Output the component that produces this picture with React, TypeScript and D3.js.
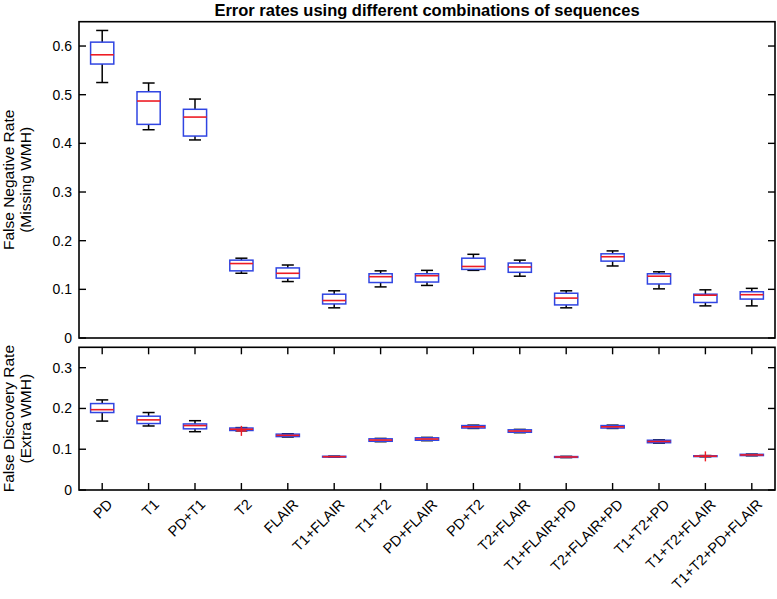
import React from "react";
import * as d3 from "d3";

const categories = [
  "PD", "T1", "PD+T1", "T2", "FLAIR", "T1+FLAIR", "T1+T2", "PD+FLAIR", "PD+T2",
  "T2+FLAIR", "T1+FLAIR+PD", "T2+FLAIR+PD", "T1+T2+PD", "T1+T2+FLAIR", "T1+T2+PD+FLAIR",
];

// False negative rate (top panel)
const fnrLow = [0.525, 0.428, 0.407, 0.133, 0.116, 0.062, 0.105, 0.108, 0.139, 0.127, 0.062, 0.148, 0.101, 0.066, 0.066];
const fnrQ1 = [0.563, 0.439, 0.415, 0.138, 0.123, 0.070, 0.114, 0.115, 0.141, 0.135, 0.068, 0.158, 0.111, 0.073, 0.080];
const fnrMed = [0.582, 0.487, 0.454, 0.153, 0.133, 0.077, 0.126, 0.128, 0.147, 0.146, 0.082, 0.167, 0.127, 0.088, 0.089];
const fnrQ3 = [0.608, 0.506, 0.470, 0.160, 0.144, 0.090, 0.132, 0.132, 0.164, 0.154, 0.092, 0.173, 0.132, 0.090, 0.095];
const fnrHigh = [0.632, 0.524, 0.491, 0.164, 0.150, 0.097, 0.138, 0.139, 0.172, 0.160, 0.097, 0.179, 0.136, 0.099, 0.102];
const fnrOutliers: number[][] = [[], [], [], [], [], [], [], [], [], [], [], [], [], [], []];

// False discovery rate (bottom panel)
const fdrLow = [0.169, 0.157, 0.143, 0.145, 0.130, 0.0805, 0.1185, 0.121, 0.151, 0.1406, 0.0795, 0.151, 0.115, 0.0815, 0.0840];
const fdrQ1 = [0.190, 0.163, 0.150, 0.146, 0.131, 0.0807, 0.1195, 0.122, 0.152, 0.1416, 0.0800, 0.152, 0.116, 0.0820, 0.0845];
const fdrMed = [0.197, 0.172, 0.158, 0.149, 0.134, 0.0817, 0.1225, 0.125, 0.155, 0.1446, 0.0810, 0.155, 0.119, 0.0830, 0.0860];
const fdrQ3 = [0.212, 0.181, 0.162, 0.152, 0.137, 0.0827, 0.1255, 0.128, 0.158, 0.1476, 0.0820, 0.158, 0.122, 0.0840, 0.0875];
const fdrHigh = [0.221, 0.190, 0.170, 0.153, 0.138, 0.0830, 0.1265, 0.129, 0.159, 0.1486, 0.0825, 0.159, 0.123, 0.0845, 0.0880];
const fdrOutliers: number[][] = [[], [], [], [0.145], [], [], [], [], [], [], [], [], [], [0.0825], []];

const fnrTicks = [0, 0.1, 0.2, 0.3, 0.4, 0.5, 0.6];
const fdrTicks = [0, 0.1, 0.2, 0.3];

const title = "Error rates using different combinations of sequences";
const fnrLabel = ["False Negative Rate", "(Missing WMH)"];
const fdrLabel = ["False Discovery Rate", "(Extra WMH)"];

const W = 777;
const H = 599;
const left = 79;
const right = 775;
const topA = 21.7;
const botA = 338;
const topB = 347.3;
const botB = 490;

const FONT = "'Liberation Sans', Arial, Helvetica, sans-serif";
const BLUE = "#3045e2";
const RED = "#ee1c24";

const x = d3.scalePoint<string>().domain(categories).range([left, right]).padding(0.5);
const step = x.step();
const boxW = step * 0.5;
const capW = step * 0.26;

type Panel = {
  y: d3.ScaleLinear<number, number>;
  low: number[]; q1: number[]; med: number[]; q3: number[]; high: number[]; out: number[][];
  ticks: number[]; top: number; bot: number; label: string[]; xTicks: boolean;
};

const panels: Panel[] = [
  {
    y: d3.scaleLinear().domain([0, 0.65]).range([botA, topA]),
    low: fnrLow, q1: fnrQ1, med: fnrMed, q3: fnrQ3, high: fnrHigh, out: fnrOutliers,
    ticks: fnrTicks, top: topA, bot: botA, label: fnrLabel, xTicks: false,
  },
  {
    y: d3.scaleLinear().domain([0, 0.35]).range([botB, topB]),
    low: fdrLow, q1: fdrQ1, med: fdrMed, q3: fdrQ3, high: fdrHigh, out: fdrOutliers,
    ticks: fdrTicks, top: topB, bot: botB, label: fdrLabel, xTicks: true,
  },
];

const fmt = (v: number) => (v === 0 ? "0" : d3.format(".1f")(v));

function PanelView({ p }: { p: Panel }) {
  const { y } = p;
  const mid = (p.top + p.bot) / 2;
  const tl = 7;
  return (
    <g>
      {p.ticks.map((t) => (
        <g key={"yt" + t}>
          <line x1={left} x2={left + tl} y1={y(t)} y2={y(t)} stroke="#000" strokeWidth={1.4} />
          <line x1={right} x2={right - tl} y1={y(t)} y2={y(t)} stroke="#000" strokeWidth={1.4} />
          <text x={left - 7} y={y(t)} dy="0.35em" textAnchor="end" fontSize={14} fontFamily={FONT}>
            {fmt(t)}
          </text>
        </g>
      ))}
      {p.xTicks &&
        categories.map((c) => (
          <g key={"xt" + c}>
            <line x1={x(c)} x2={x(c)} y1={p.bot} y2={p.bot - tl} stroke="#000" strokeWidth={1.4} />
            <line x1={x(c)} x2={x(c)} y1={p.top} y2={p.top + tl} stroke="#000" strokeWidth={1.4} />
          </g>
        ))}
      {categories.map((c, i) => {
        const cx = x(c) as number;
        return (
          <g key={"b" + c}>
            <line x1={cx} x2={cx} y1={y(p.high[i])} y2={y(p.q3[i])} stroke="#000" strokeWidth={1.5} />
            <line x1={cx} x2={cx} y1={y(p.q1[i])} y2={y(p.low[i])} stroke="#000" strokeWidth={1.5} />
            <line x1={cx - capW / 2} x2={cx + capW / 2} y1={y(p.high[i])} y2={y(p.high[i])} stroke="#000" strokeWidth={1.5} />
            <line x1={cx - capW / 2} x2={cx + capW / 2} y1={y(p.low[i])} y2={y(p.low[i])} stroke="#000" strokeWidth={1.5} />
            <rect
              x={cx - boxW / 2}
              y={y(p.q3[i])}
              width={boxW}
              height={Math.max(0.1, y(p.q1[i]) - y(p.q3[i]))}
              fill="none"
              stroke={BLUE}
              strokeWidth={1.5}
            />
            <line x1={cx - boxW / 2} x2={cx + boxW / 2} y1={y(p.med[i])} y2={y(p.med[i])} stroke={RED} strokeWidth={1.6} />
            {p.out[i].map((o, j) => (
              <g key={"o" + j}>
                <line x1={cx - 5} x2={cx + 5} y1={y(o)} y2={y(o)} stroke={RED} strokeWidth={1.4} />
                <line x1={cx} x2={cx} y1={y(o) - 5} y2={y(o) + 5} stroke={RED} strokeWidth={1.4} />
              </g>
            ))}
          </g>
        );
      })}
      <rect x={left} y={p.top} width={right - left} height={p.bot - p.top} fill="none" stroke="#000" strokeWidth={1.6} />
      <text transform={`translate(0,${mid}) rotate(-90)`} textAnchor="middle" fontSize={15.5} fontFamily={FONT}>
        <tspan x={0} y={14}>{p.label[0]}</tspan>
        <tspan x={0} y={31}>{p.label[1]}</tspan>
      </text>
    </g>
  );
}

export default function App() {
  return (
    <svg width={W} height={H} style={{ position: "absolute", left: 0, top: 0, background: "#fff" }}>
      <rect width={W} height={H} fill="#fff" />
      <text
        x={(left + right) / 2}
        y={15}
        textAnchor="middle"
        fontSize={16.5}
        fontWeight="bold"
        fontFamily={FONT}
        transform={`translate(${(left + right) / 2},0) scale(1,1.05) translate(${-(left + right) / 2},0)`}
      >
        {title}
      </text>
      {panels.map((p, i) => (
        <PanelView key={i} p={p} />
      ))}
      {categories.map((c) => (
        <text
          key={"xl" + c}
          transform={`translate(${(x(c) as number) + 4},${botB + 8}) rotate(-45)`}
          textAnchor="end"
          dy="0.71em"
          fontSize={14.5}
          fontFamily={FONT}
        >
          {c}
        </text>
      ))}
    </svg>
  );
}
